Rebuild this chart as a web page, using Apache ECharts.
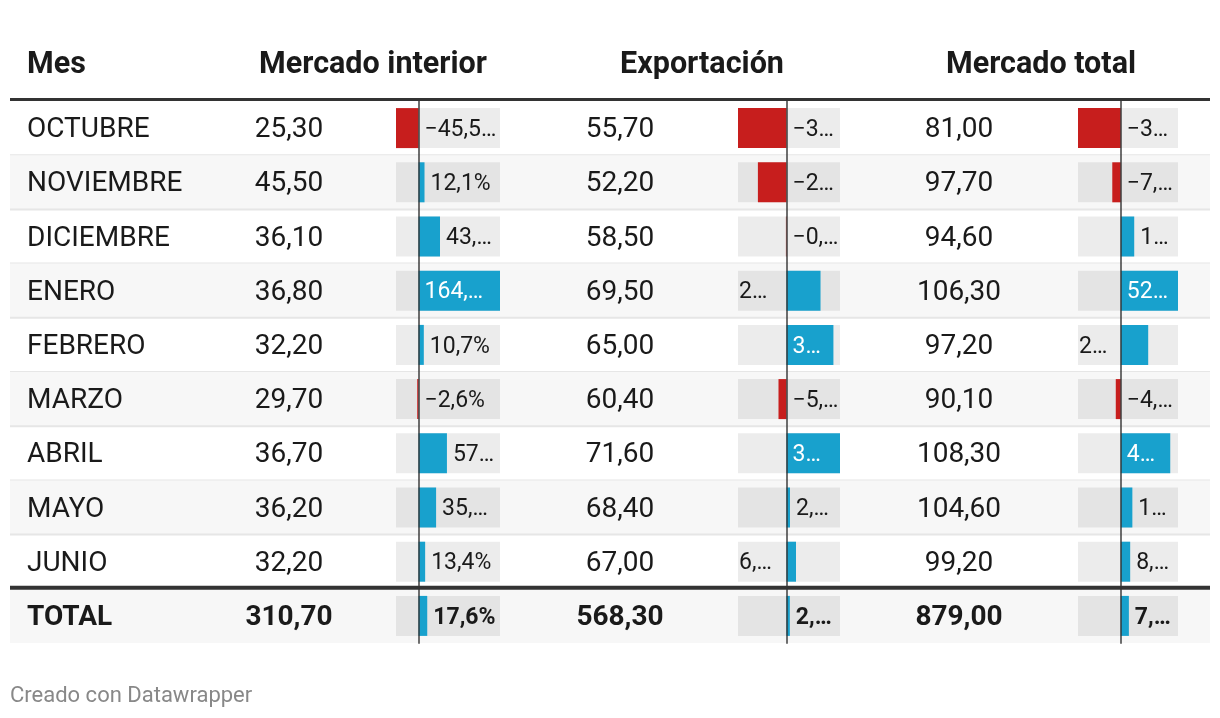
<!DOCTYPE html>
<html>
<head>
<meta charset="utf-8">
<script src="https://cdn.jsdelivr.net/npm/echarts@6/dist/echarts.min.js"></script>
<style>
html,body{margin:0;padding:0;background:#fff;}
#chart{width:1220px;height:718px;}
</style>
</head>
<body>
<div id="chart"></div>
<script>
// ---------- DATA ----------
const headers = ['Mes', 'Mercado interior', 'Exportación', 'Mercado total'];
const months = ['OCTUBRE', 'NOVIEMBRE', 'DICIEMBRE', 'ENERO', 'FEBRERO', 'MARZO', 'ABRIL', 'MAYO', 'JUNIO'];
const totalRowName = 'TOTAL';

const interiorValues = [25.30, 45.50, 36.10, 36.80, 32.20, 29.70, 36.70, 36.20, 32.20];
const interiorTotal = 310.70;
const exportValues = [55.70, 52.20, 58.50, 69.50, 65.00, 60.40, 71.60, 68.40, 67.00];
const exportTotal = 568.30;
const totalValues = [81.00, 97.70, 94.60, 106.30, 97.20, 90.10, 108.30, 104.60, 99.20];
const totalTotal = 879.00;

// % change (last item = TOTAL row)
const interiorChange = [-45.5, 12.1, 43.4, 164.6, 10.7, -2.6, 57.4, 35.5, 13.4, 17.6];
const exportChange = [-34.6, -20.4, -0.4, 24.3, 33.5, -5.7, 38.2, 2.5, 6.8, 2.4];
const totalChange = [-39.2, -7.8, 12.3, 52.4, 25.1, -4.6, 45.3, 10.6, 8.6, 7.4];

// labels as displayed (truncated in the source table)
const interiorChangeLabels = ['−45,5…', '12,1%', '43,…', '164,…', '10,7%', '−2,6%', '57…', '35,…', '13,4%', '17,6%'];
const exportChangeLabels = ['−3…', '−2…', '−0,…', '2…', '3…', '−5,…', '3…', '2,…', '6,…', '2,…'];
const totalChangeLabels = ['−3…', '−7,…', '1…', '52…', '2…', '−4,…', '4…', '1…', '8,…', '7,…'];

const footerText = 'Creado con Datawrapper';

// ---------- LAYOUT / STYLE ----------
const FONT = 'Roboto, "Noto Sans", sans-serif';
const TEXT = '#1a1a1a';
const RED = '#c71e1d';
const BLUE = '#18a1cd';
const TABLE_TOP = 101, TABLE_H = 542;
const MONTH_X = 27;
const VALUE_CX = [289, 620, 959];
const HEADER_CX = [373, 702, 1041];
const HEADER_Y = 65;
const TEXT_DY = 2;
const BAR_COLS = [{left: 396, width: 104}, {left: 738, width: 102}, {left: 1078, width: 100}];
const BODY_SIZE = 28, LABEL_SIZE = 23, HEADER_SIZE = 30.5, FOOTER_SIZE = 22;

const rows = months.concat([totalRowName]);
const colValues = [interiorValues.concat([interiorTotal]), exportValues.concat([exportTotal]), totalValues.concat([totalTotal])];
const changes = [interiorChange, exportChange, totalChange];
const changeLabels = [interiorChangeLabels, exportChangeLabels, totalChangeLabels];
const fmt = v => v.toFixed(2).replace('.', ',');

const grids = [{left: 10, top: TABLE_TOP, width: 1200, height: TABLE_H}];
BAR_COLS.forEach(c => grids.push({left: c.left, top: TABLE_TOP, width: c.width, height: TABLE_H}));

const xAxes = [{gridIndex: 0, type: 'value', min: 0, max: 1, show: false}];
const yAxes = [{gridIndex: 0, type: 'category', data: rows, inverse: true, show: false}];
changes.forEach((arr, i) => {
  xAxes.push({
    gridIndex: i + 1, type: 'value',
    min: () => Math.min.apply(null, arr), max: () => Math.max.apply(null, arr),
    axisLabel: {show: false}, axisTick: {show: false}, axisLine: {show: false}, splitLine: {show: false}
  });
  yAxes.push({
    gridIndex: i + 1, type: 'category', data: rows, inverse: true, z: 5,
    axisLabel: {show: false}, axisTick: {show: false}, splitLine: {show: false},
    axisLine: {show: true, onZero: true, lineStyle: {color: 'rgba(50,50,50,0.7)', width: 2}}
  });
});

const series = [];
// table body: backgrounds, separators, text columns
series.push({
  type: 'custom', xAxisIndex: 0, yAxisIndex: 0, z: 1, silent: true,
  data: rows.map((_, i) => [0, i]),
  encode: {x: 0, y: 1},
  renderItem(params, api) {
    const r = api.value(1);
    const c = api.coord([0, r]);
    const h = api.size([0, 1])[1];
    const cs = params.coordSys;
    const top = c[1] - h / 2, yc = c[1] + TEXT_DY;
    const isTotal = r === months.length;
    const ch = [];
    if (r % 2 === 1 || isTotal) ch.push({type: 'rect', shape: {x: cs.x, y: top, width: cs.width, height: h}, style: {fill: '#f7f7f7'}});
    if (!isTotal && r < months.length - 1) ch.push({type: 'rect', shape: {x: cs.x, y: top + h - 1, width: cs.width, height: 2}, style: {fill: '#e6e6e6'}});
    if (r === 0) ch.push({type: 'rect', shape: {x: cs.x, y: top - 3, width: cs.width, height: 3}, style: {fill: '#333'}});
    if (isTotal) ch.push({type: 'rect', shape: {x: cs.x, y: top - 3, width: cs.width, height: 4}, style: {fill: '#333'}});
    const fw = isTotal ? 'bold' : 'normal';
    ch.push({type: 'text', style: {text: rows[r], x: MONTH_X, y: yc, fill: TEXT, fontSize: BODY_SIZE, fontFamily: FONT, fontWeight: fw, align: 'left', verticalAlign: 'middle'}});
    colValues.forEach((vals, k) => {
      ch.push({type: 'text', style: {text: fmt(vals[r]), x: VALUE_CX[k], y: yc, fill: TEXT, fontSize: BODY_SIZE, fontFamily: FONT, fontWeight: fw, align: 'center', verticalAlign: 'middle'}});
    });
    return {type: 'group', children: ch};
  }
});

changes.forEach((arr, i) => {
  series.push({
    type: 'bar', xAxisIndex: i + 1, yAxisIndex: i + 1, z: 2, silent: true,
    barWidth: 40, showBackground: true,
    backgroundStyle: {color: 'rgba(0,0,0,0.075)'},
    data: arr.map(v => ({value: v, itemStyle: {color: v < 0 ? RED : BLUE}}))
  });
  const labels = changeLabels[i];
  series.push({
    type: 'custom', xAxisIndex: i + 1, yAxisIndex: i + 1, z: 6, silent: true,
    data: arr.map((v, r) => [v, r]),
    encode: {x: 0, y: 1},
    renderItem(params, api) {
      const v = api.value(0), r = api.value(1);
      const p0 = api.coord([0, r]), p1 = api.coord([v, r]);
      const cs = params.coordSys;
      const left = cs.x, right = cs.x + cs.width;
      let x, fill = TEXT;
      if (v < 0) {
        x = p0[0] + 6;
      } else {
        const after = right - p1[0], neg = p0[0] - left, inside = p1[0] - p0[0];
        if (inside >= Math.max(after, neg) * 0.95) { x = p0[0] + 6; fill = '#fff'; }
        else if (after >= neg) { x = p1[0] + 6; }
        else { x = left + 1; }
      }
      return {type: 'text', style: {text: labels[r], x: x, y: p0[1] + TEXT_DY, fill: fill, fontSize: LABEL_SIZE, fontFamily: FONT,
        fontWeight: r === months.length ? 'bold' : 'normal', align: 'left', verticalAlign: 'middle'}};
    }
  });
});

const graphic = [
  {type: 'text', x: MONTH_X, y: HEADER_Y, style: {text: headers[0], fill: TEXT, fontSize: HEADER_SIZE, fontWeight: 'bold', fontFamily: FONT, align: 'left', verticalAlign: 'middle'}},
  {type: 'text', x: 10, y: 696, style: {text: footerText, fill: '#888', fontSize: FOOTER_SIZE, fontFamily: FONT, align: 'left', verticalAlign: 'middle'}}
];
HEADER_CX.forEach((cx, k) => graphic.push({type: 'text', x: cx, y: HEADER_Y, style: {text: headers[k + 1], fill: TEXT, fontSize: HEADER_SIZE, fontWeight: 'bold', fontFamily: FONT, align: 'center', verticalAlign: 'middle'}}));

const chart = echarts.init(document.getElementById('chart'), null, {renderer: 'canvas'});
chart.setOption({
  animation: false,
  backgroundColor: '#fff',
  grid: grids, xAxis: xAxes, yAxis: yAxes, series: series, graphic: graphic
});
</script>
</body>
</html>
